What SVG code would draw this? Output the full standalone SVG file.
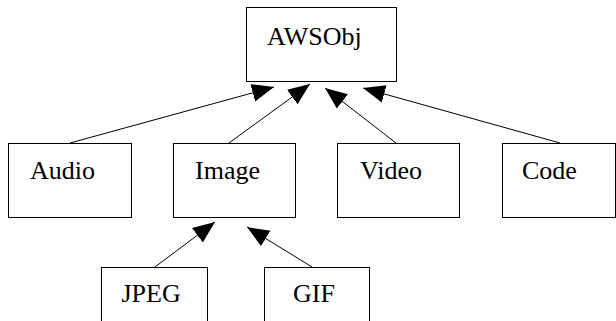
<svg xmlns="http://www.w3.org/2000/svg" width="616" height="321" viewBox="0 0 616 321">
<style>
.box{fill:#fff;stroke:#000;stroke-width:1}
.lbl{font-family:"Liberation Serif","Times New Roman",serif;font-size:26px;fill:#000}
.edge{stroke:#000;stroke-width:1;fill:none;marker-end:url(#arr)}
</style>
<defs>
<marker id="arr" markerUnits="userSpaceOnUse" markerWidth="24" markerHeight="20" refX="22" refY="9" orient="auto" viewBox="0 0 24 20">
<path d="M0,0 L22,9 L0,18 z" fill="#000"/>
</marker>
</defs>
<rect width="616" height="321" fill="#fff"/>
<g id="connectors">
<line class="edge" x1="70" y1="143" x2="274" y2="87"/>
<line class="edge" x1="229" y1="143" x2="310" y2="84"/>
<line class="edge" x1="396" y1="143" x2="325" y2="88"/>
<line class="edge" x1="560" y1="143" x2="363" y2="88"/>
<line class="edge" x1="155" y1="267" x2="215" y2="222"/>
<line class="edge" x1="312" y1="267" x2="247" y2="227"/>
</g>
<g id="AWSObj"><rect class="box" x="246.5" y="7.5" width="150" height="74"/><text class="lbl" x="267" y="44.5">AWSObj</text></g>
<g id="Audio"><rect class="box" x="8.5" y="143.5" width="123" height="74"/><text class="lbl" x="30" y="179">Audio</text></g>
<g id="Image"><rect class="box" x="173.5" y="143.5" width="122" height="74"/><text class="lbl" x="195" y="179">Image</text></g>
<g id="Video"><rect class="box" x="337.5" y="143.5" width="122" height="74"/><text class="lbl" x="360" y="179">Video</text></g>
<g id="Code"><rect class="box" x="502.5" y="143.5" width="113" height="74"/><text class="lbl" x="522" y="179">Code</text></g>
<g id="JPEG"><rect class="box" x="101.5" y="267.5" width="106" height="74"/><text class="lbl" x="121.5" y="302">JPEG</text></g>
<g id="GIF"><rect class="box" x="264.5" y="267.5" width="105" height="74"/><text class="lbl" x="293" y="302">GIF</text></g>
</svg>
